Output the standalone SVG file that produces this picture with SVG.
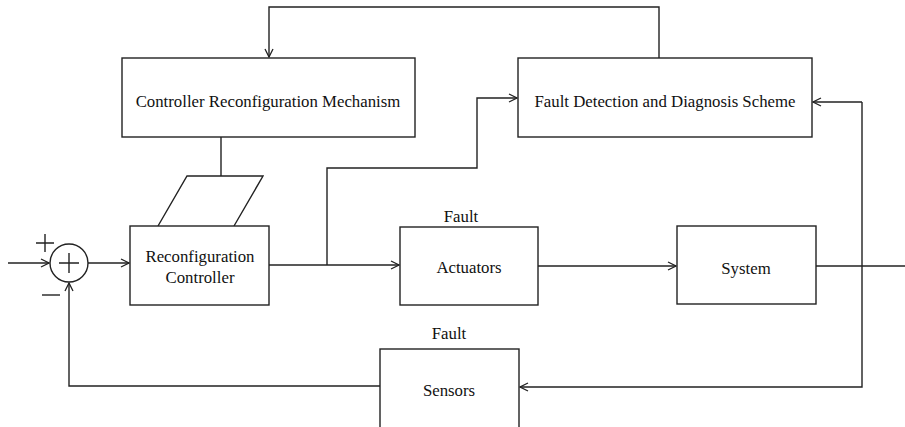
<svg xmlns="http://www.w3.org/2000/svg" width="905" height="427" viewBox="0 0 905 427">
<style>
.box{fill:#fff;stroke:#222;stroke-width:1.4}
.ln{fill:none;stroke:#222;stroke-width:1.4}
.t{font-family:"Liberation Serif","Times New Roman","DejaVu Serif",serif;font-size:16.8px;fill:#111;text-anchor:middle;dominant-baseline:central}
</style>
<defs>
<marker id="ar" markerWidth="10" markerHeight="10" refX="9" refY="5" orient="auto" markerUnits="userSpaceOnUse">
<path d="M1,1 L9,5 L1,9" fill="none" stroke="#222" stroke-width="1.3"/>
</marker>
</defs>
<rect width="905" height="427" fill="#fff"/>
<g id="connectors">
<path class="ln" d="M659,58 V7 H269 V57" marker-end="url(#ar)"/>
<path class="ln" d="M221,137 V176"/>
<path class="ln" d="M8,263 H49" marker-end="url(#ar)"/>
<path class="ln" d="M88,263 H129" marker-end="url(#ar)"/>
<path class="ln" d="M269,265 H399" marker-end="url(#ar)"/>
<path class="ln" d="M327,265 V168 H477 V98 H517" marker-end="url(#ar)"/>
<path class="ln" d="M538,266 H676" marker-end="url(#ar)"/>
<path class="ln" d="M816,266 H905"/>
<path class="ln" d="M862,102 H813" marker-end="url(#ar)"/>
<path class="ln" d="M862,102 V387 H520" marker-end="url(#ar)"/>
<path class="ln" d="M380,386 H69 V283" marker-end="url(#ar)"/>
</g>
<g id="sum">
<circle cx="69" cy="263" r="19" class="box"/>
<path class="ln" d="M59,263 H79 M69,253 V273"/>
<path class="ln" d="M36,243 H54 M45,234 V252"/>
<path class="ln" d="M42,295 H60"/>
</g>
<g id="crm">
<rect class="box" x="122" y="58" width="293" height="79"/>
<text class="t" x="268" y="101">Controller Reconfiguration Mechanism</text>
</g>
<g id="fdd">
<rect class="box" x="518" y="58" width="294" height="79"/>
<text class="t" x="665" y="101">Fault Detection and Diagnosis Scheme</text>
</g>
<g id="switch">
<polyline class="ln" points="158,226 187,176 263,176 234,226"/>
</g>
<g id="rc">
<rect class="box" x="130" y="226" width="139" height="79"/>
<text class="t" x="200" y="256">Reconfiguration</text>
<text class="t" x="200" y="277">Controller</text>
</g>
<g id="act">
<text class="t" x="461" y="216">Fault</text>
<rect class="box" x="400" y="227" width="138" height="78"/>
<text class="t" x="469" y="267">Actuators</text>
</g>
<g id="sys">
<rect class="box" x="677" y="226" width="139" height="78"/>
<text class="t" x="746" y="268">System</text>
</g>
<g id="sens">
<text class="t" x="449" y="333">Fault</text>
<rect class="box" x="380" y="349" width="139" height="90"/>
<text class="t" x="449" y="390">Sensors</text>
</g>
</svg>
